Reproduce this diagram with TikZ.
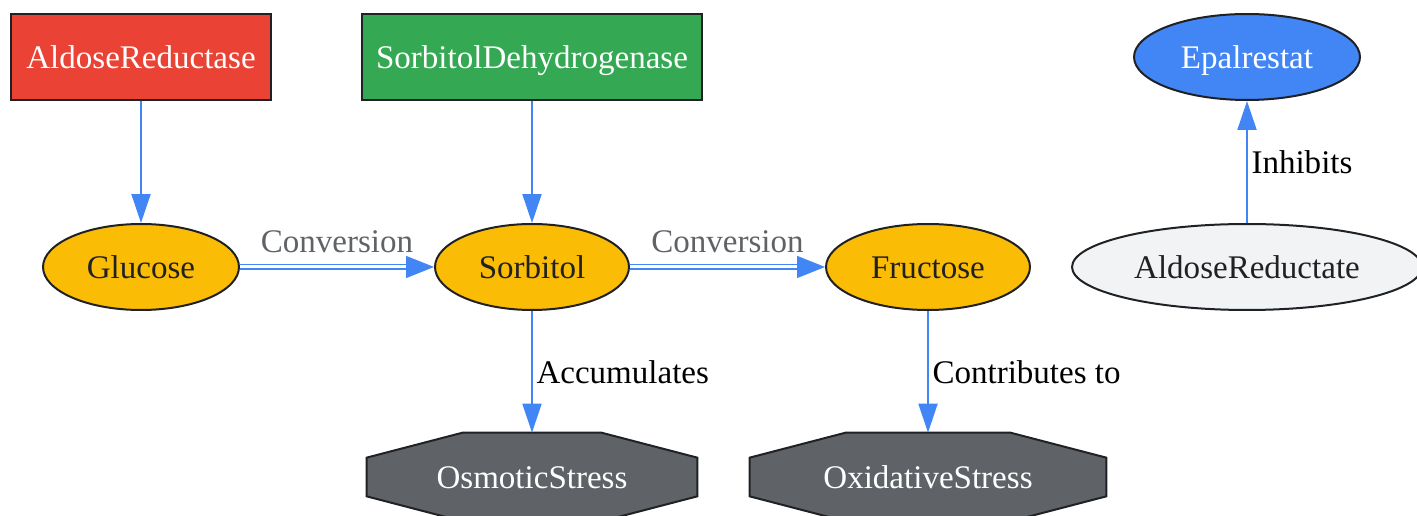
\documentclass[tikz,border=0pt]{standalone}
\usepackage{fontspec}
\setmainfont{Liberation Serif}
\usepackage{tikz}
\usetikzlibrary{shapes.geometric, arrows.meta, backgrounds}

\definecolor{gred}{HTML}{EA4335}
\definecolor{ggreen}{HTML}{34A853}
\definecolor{gblue}{HTML}{4285F4}
\definecolor{gyellow}{HTML}{FBBC05}
\definecolor{ggray}{HTML}{5F6368}
\definecolor{glight}{HTML}{F1F3F4}
\definecolor{gtext}{HTML}{202124}

\begin{document}
\begin{tikzpicture}[
  x=0.02cm, y=-0.02cm,
  every node/.style={font=\fontsize{18.8}{22}\selectfont},
  box/.style={text height=17pt, text depth=3.8pt},
  enzyme/.style={box, draw=gtext, rectangle, line width=0.04cm, minimum height=1.72cm, text=white},
  sugar/.style={box, draw=gtext, ellipse, fill=gyellow, line width=0.04cm, minimum height=1.72cm, text=gtext},
  drug/.style={box, draw=gtext, ellipse, fill=gblue, line width=0.04cm, minimum height=1.72cm, text=white},
  target/.style={box, draw=gtext, ellipse, fill=glight, line width=0.04cm, minimum height=1.72cm, text=gtext},
  stress/.style={box, rectangle, text=white, minimum height=1.76cm, inner sep=0pt},
  octa/.style={draw=gtext, fill=ggray, line width=0.04cm, line join=miter},
  link/.style={draw=gblue, line width=0.04cm, -{Triangle[length=0.58cm, width=0.38cm]}},
  conv/.style={draw=gblue, line width=0.028cm, double=white, double distance=0.06cm, -{Triangle[length=0.56cm, width=0.44cm]}},
  lbl/.style={text=black, inner sep=2pt}
]
\useasboundingbox (0,0) rectangle (1417,516);

\node[enzyme, fill=gred, minimum width=5.2cm] (ar) at (141,57) {AldoseReductase};
\node[enzyme, fill=ggreen, minimum width=6.8cm] (sdh) at (532,57) {SorbitolDehydrogenase};
\node[drug, minimum width=4.52cm] (epal) at (1247,57) {Epalrestat};

\node[sugar, minimum width=3.92cm] (glu) at (141,267) {Glucose};
\node[sugar, minimum width=3.88cm] (sor) at (532,267) {Sorbitol};
\node[sugar, minimum width=4.08cm] (fru) at (928,267) {Fructose};
\node[target, minimum width=7cm] (ardt) at (1247,267) {AldoseReductate};

\node[stress, minimum width=6.6cm] (osm) at (532,477) {OsmoticStress};
\node[stress, minimum width=7.12cm] (oxi) at (928,477) {OxidativeStress};

\begin{scope}[on background layer]
\foreach \s in {osm, oxi}
  \draw[octa] ([xshift=1.92cm]\s.north west) -- ([xshift=-1.92cm]\s.north east)
    -- ([yshift=-0.5cm]\s.north east) -- ([yshift=0.5cm]\s.south east)
    -- ([xshift=-1.92cm]\s.south east) -- ([xshift=1.92cm]\s.south west)
    -- ([yshift=0.5cm]\s.south west) -- ([yshift=-0.5cm]\s.north west) -- cycle;
\end{scope}

\draw[link] (ar) -- (glu);
\draw[link] (sdh) -- (sor);
\draw[conv] (glu) -- node[above=4.5pt, text=ggray] {Conversion} (sor);
\draw[conv] (sor) -- node[above=4.5pt, text=ggray] {Conversion} (fru);
\draw[link] (sor) -- node[right, lbl] {Accumulates} (osm.north);
\draw[link] (fru) -- node[right, lbl] {Contributes to} (oxi.north);
\draw[link] (ardt) -- node[right, lbl] {Inhibits} (epal);
\end{tikzpicture}
\end{document}
